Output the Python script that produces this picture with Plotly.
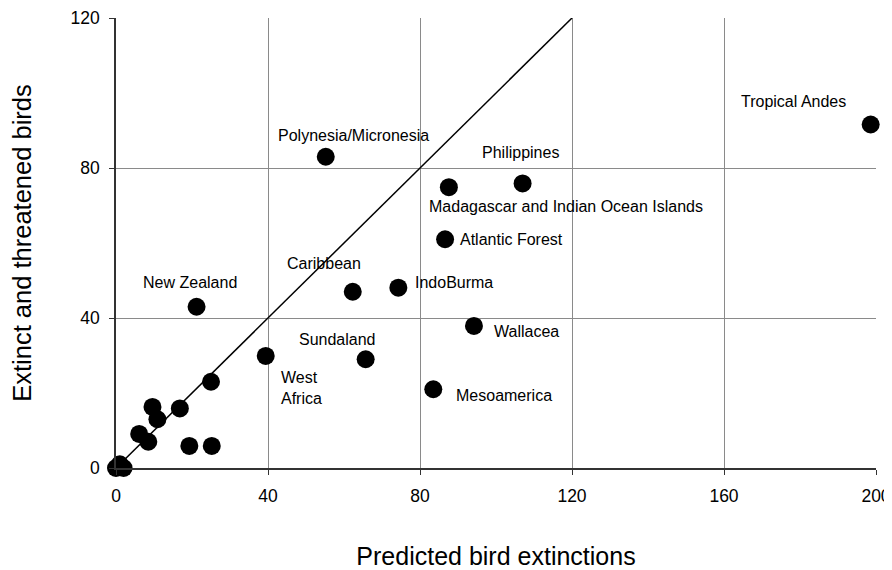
import plotly.graph_objects as go

# Labelled regions
regions = ["Tropical Andes", "Polynesia/Micronesia", "Philippines",
           "Madagascar and Indian Ocean Islands", "Atlantic Forest", "Caribbean",
           "IndoBurma", "New Zealand", "Wallacea", "Sundaland", "West<br>Africa",
           "Mesoamerica"]
region_pred = [198.6, 55.2, 107.0, 87.6, 86.6, 62.3, 74.3, 21.2, 94.2, 65.7, 39.4, 83.5]
region_obs = [91.6, 83.0, 75.9, 74.9, 61.0, 47.0, 48.1, 43.0, 37.9, 29.0, 29.9, 21.0]

# Unlabelled regions
other_pred = [25.0, 16.8, 9.6, 10.9, 6.1, 8.5, 19.3, 25.2, 0.0, 1.0, 2.0]
other_obs = [23.0, 15.9, 16.3, 13.0, 9.1, 7.0, 5.9, 5.9, 0.0, 1.0, 0.0]

# 1:1 reference line
line_x = [0, 120]
line_y = [0, 120]

x_ticks = [0, 40, 80, 120, 160, 200]
y_ticks = [0, 40, 80, 120]

# label offsets in pixels (style)
label_shift = {
    "Tropical Andes": (-77, 23, "center"),
    "Polynesia/Micronesia": (28, 21, "center"),
    "Philippines": (-2, 31, "center"),
    "Madagascar and Indian Ocean Islands": (117, -19, "center"),
    "Atlantic Forest": (13, 0, "left"),
    "Caribbean": (-29, 28, "center"),
    "IndoBurma": (15, 5, "left"),
    "New Zealand": (-7, 24, "center"),
    "Wallacea": (18, -6, "left"),
    "Sundaland": (-28, 20, "center"),
    "West<br>Africa": (13, -32, "left"),
    "Mesoamerica": (21, -6, "left"),
}

FONT = "Liberation Sans, Arial, sans-serif"

fig = go.Figure()
fig.add_trace(go.Scatter(x=line_x, y=line_y, mode="lines",
                         line=dict(color="black", width=1.5),
                         hoverinfo="skip", showlegend=False))
fig.add_trace(go.Scatter(x=other_pred, y=other_obs, mode="markers",
                         marker=dict(color="black", size=18),
                         cliponaxis=False, showlegend=False))
fig.add_trace(go.Scatter(x=region_pred, y=region_obs, mode="markers",
                         marker=dict(color="black", size=18),
                         text=regions, cliponaxis=False, showlegend=False))

for name, xv, yv in zip(regions, region_pred, region_obs):
    dx, dy, anchor = label_shift[name]
    fig.add_annotation(x=xv, y=yv, text=name, showarrow=False,
                       xshift=dx, yshift=dy, xanchor=anchor, align="left",
                       font=dict(size=16, color="black", family=FONT))

# page body has an 8px margin, so the figure is sized 8px smaller
fig.update_layout(
    width=884, height=562,
    margin=dict(l=108, r=16, t=10, b=102),
    paper_bgcolor="white", plot_bgcolor="white",
    font=dict(family=FONT, color="black"),
    showlegend=False,
)
fig.update_xaxes(range=[0, 200], tickvals=x_ticks, ticktext=[str(v) for v in x_ticks],
                 showgrid=True, gridcolor="#8a8a8a", gridwidth=1,
                 showline=True, linecolor="#333333", linewidth=1.5,
                 ticks="outside", ticklen=5, tickcolor="#333333",
                 tickfont=dict(size=17.5), ticklabelstandoff=6,
                 zeroline=False, automargin=False,
                 title=dict(text="Predicted bird extinctions", font=dict(size=25), standoff=50))
fig.update_yaxes(range=[0, 120], tickvals=y_ticks, ticktext=[str(v) for v in y_ticks],
                 showgrid=True, gridcolor="#8a8a8a", gridwidth=1,
                 showline=True, linecolor="#333333", linewidth=1.5,
                 ticks="outside", ticklen=5, tickcolor="#333333",
                 tickfont=dict(size=17.5), ticklabelstandoff=6,
                 zeroline=False, automargin=False,
                 title=dict(text="Extinct and threatened birds", font=dict(size=25.5), standoff=35))

fig.write_html("out.html")
